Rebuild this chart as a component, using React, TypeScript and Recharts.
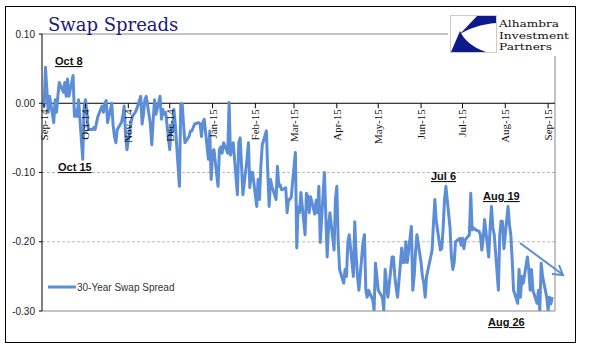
import { LineChart, Line, XAxis, YAxis, ReferenceLine, ReferenceDot } from 'recharts'

// 30-year swap spread, one value per business day
const sep14 = [-0.005, 0.052, 0.02, -0.013, 0.01, -0.028, 0.005, -0.013, 0.01, 0.03, 0.016, 0.03, 0.01, 0.035, 0.01, 0.04, -0.019, -0.01, -0.019, 0.005, -0.081, -0.004]
const oct14 = [0.005, -0.013, -0.038, -0.038, -0.035, -0.038, -0.028, -0.019, -0.004, -0.013, 0.0, 0.004, -0.028, 0.0, -0.032, -0.048, -0.057, -0.038, -0.028, -0.019, -0.004, -0.045, -0.067]
const nov14 = [-0.028, -0.019, -0.016, -0.013, -0.009, 0.01, -0.03, -0.016, 0.005, 0.01, -0.03, -0.06, -0.025, 0.005, -0.016, 0.01, -0.023, -0.009, -0.016, -0.013]
const dec14 = [-0.067, -0.033, -0.04, -0.009, -0.03, -0.12, -0.001, -0.001, -0.03, -0.057, -0.048, -0.04, -0.04, -0.035, -0.03, -0.028, -0.03, -0.048, -0.028, -0.023, -0.081, -0.04, -0.11]
const jan15 = [-0.07, -0.067, -0.12, -0.067, -0.063, -0.072, -0.057, -0.072, 0.001, -0.075, -0.067, -0.057, -0.132, -0.057, -0.05, -0.09, -0.132, -0.08, -0.057, -0.122, -0.1, -0.1]
const feb15 = [-0.149, -0.11, -0.139, -0.091, -0.06, -0.04, -0.1, -0.149, -0.11, -0.12, -0.139, -0.091, -0.12, -0.118, -0.125, -0.122, -0.158, -0.139, -0.139, -0.135]
const mar15 = [-0.071, -0.209, -0.15, -0.158, -0.129, -0.19, -0.13, -0.135, -0.158, -0.135, -0.16, -0.14, -0.158, -0.12, -0.201, -0.1, -0.16, -0.222, -0.18, -0.158, -0.212, -0.139]
const apr15 = [-0.12, -0.2, -0.24, -0.26, -0.24, -0.25, -0.2, -0.19, -0.25, -0.171, -0.22, -0.25, -0.27, -0.2, -0.19, -0.27, -0.28, -0.27, -0.284, -0.299, -0.231, -0.25]
const may15 = [-0.27, -0.28, -0.299, -0.24, -0.26, -0.28, -0.222, -0.222, -0.25, -0.267, -0.28, -0.209, -0.23, -0.23, -0.2, -0.23, -0.178, -0.27, -0.25, -0.215, -0.19]
const jun15 = [-0.23, -0.25, -0.26, -0.28, -0.25, -0.222, -0.212, -0.173, -0.139, -0.17, -0.212, -0.21, -0.18, -0.139, -0.12, -0.18, -0.222, -0.24, -0.23, -0.2, -0.195, -0.205]
const jul15 = [-0.195, -0.21, -0.197, -0.19, -0.13, -0.183, -0.18, -0.182, -0.185, -0.19, -0.212, -0.195, -0.168, -0.222, -0.18, -0.149, -0.18, -0.19, -0.27, -0.19, -0.17, -0.171, -0.21]
const aug15 = [-0.149, -0.175, -0.19, -0.226, -0.27, -0.289, -0.24, -0.28, -0.25, -0.26, -0.222, -0.24, -0.27, -0.24, -0.27, -0.289, -0.27, -0.299, -0.231, -0.25, -0.28]
const sep15 = [-0.299, -0.28, -0.29, -0.28]

const monthSeries: [number, number, number[]][] = [
  [2014, 8, sep14], [2014, 9, oct14], [2014, 10, nov14], [2014, 11, dec14],
  [2015, 0, jan15], [2015, 1, feb15], [2015, 2, mar15], [2015, 3, apr15],
  [2015, 4, may15], [2015, 5, jun15], [2015, 6, jul15], [2015, 7, aug15], [2015, 8, sep15],
]

const tickLabels = ['Sep-14', 'Oct-14', 'Nov-14', 'Dec-14', 'Jan-15', 'Feb-15', 'Mar-15', 'Apr-15', 'May-15', 'Jun-15', 'Jul-15', 'Aug-15', 'Sep-15']
const yTicks = [-0.3, -0.2, -0.1, 0, 0.1]

const BLUE = '#5b8ed6'
const xStart = Date.UTC(2014, 7, 30, 12)
const xEnd = Date.UTC(2015, 8, 6)

const businessDays = (y: number, m: number) => {
  const out: number[] = []
  for (let d = 1; d <= 31; d++) {
    const dt = new Date(Date.UTC(y, m, d))
    if (dt.getUTCMonth() !== m) break
    const wd = dt.getUTCDay()
    if (wd !== 0 && wd !== 6) out.push(dt.getTime())
  }
  return out
}

const data = monthSeries.flatMap(([y, m, vals]) => {
  const days = businessDays(y, m)
  return vals.map((v, i) => ({ t: days[Math.min(i, days.length - 1)], spread: v }))
})

const ticks = tickLabels.map((label, i) => ({ label, t: Date.UTC(2014, 8 + i, 1) }))

const MonthTick = ({ cx, cy, label }: any) => (
  <g>
    <line x1={cx} y1={cy} x2={cx} y2={cy + 5} stroke='#000' />
    <text
      transform={`translate(${cx + 4},${cy + 6}) rotate(-90)`}
      textAnchor='end'
      fontFamily='Liberation Serif'
      fontSize={11}
      fill='#111'
    >
      {label}
    </text>
  </g>
)

const note = {
  fontFamily: 'Liberation Sans',
  fontWeight: 700,
  fontSize: 11,
  fill: '#111',
  textDecoration: 'underline',
} as const

export default function App() {
  return (
    <div style={{ position: 'absolute', left: 0, top: 0, width: 598, height: 361, background: '#fff' }}>
      <div
        style={{
          position: 'absolute',
          left: 5,
          top: 6,
          width: 571,
          height: 337,
          border: '1px solid #000',
          boxSizing: 'border-box',
        }}
      />
      <div style={{ position: 'absolute', left: 0, top: 0 }}>
        <LineChart width={598} height={361} data={data} margin={{ top: 34, right: 43, bottom: 50, left: 5 }}>
          <XAxis dataKey='t' type='number' domain={[xStart, xEnd]} allowDataOverflow hide />
          <YAxis
            width={37}
            domain={[-0.3, 0.1]}
            ticks={yTicks}
            allowDataOverflow
            tickFormatter={(v: number) => v.toFixed(2)}
            axisLine={{ stroke: '#000' }}
            tickLine={{ stroke: '#000' }}
            tickSize={3}
            tickMargin={4}
            tick={{ fontFamily: 'Liberation Sans', fontSize: 10, fill: '#222' }}
          />
          <ReferenceLine y={0.1} stroke='#888' />
          <ReferenceLine y={-0.1} stroke='#bbb' strokeDasharray='3 2' />
          <ReferenceLine y={-0.2} stroke='#bbb' strokeDasharray='3 2' />
          <ReferenceLine y={-0.3} stroke='#888' />
          <ReferenceLine x={xEnd} stroke='#888' />
          <ReferenceLine y={0} stroke='#000' />
          {ticks.map((tk) => (
            <ReferenceDot
              key={tk.label}
              x={tk.t}
              y={0}
              r={0}
              shape={(p: any) => <MonthTick cx={p.cx} cy={p.cy} label={tk.label} />}
            />
          ))}
          <Line
            dataKey='spread'
            stroke={BLUE}
            strokeWidth={3}
            dot={false}
            isAnimationActive={false}
            strokeLinejoin='round'
          />
        </LineChart>
      </div>
      <svg
        width={598}
        height={361}
        style={{ position: 'absolute', left: 0, top: 0, pointerEvents: 'none' }}
      >
        <text x={48} y={31} fontFamily='DejaVu Serif' fontSize={18} fill='#1a1a80'>
          Swap Spreads
        </text>
        <rect x={448} y={8} width={127} height={48} fill='#fff' />
        <g transform='translate(450,15)'>
          <rect x={0.5} y={0.5} width={46} height={37} fill='#fff' stroke='#ccc' />
          <path d='M27,1 L46,1 L46,8 C32,9 18,14 10,19 Z' fill='#0d1a8c' />
          <path d='M10,16 L1,37 L36,37 C22,32 14,25 10,16 Z' fill='#0d1a8c' />
        </g>
        <g fontFamily='DejaVu Serif' fontSize={10} fill='#111' lengthAdjust='spacingAndGlyphs'>
          <text x={499} y={27} textLength={60} lengthAdjust='spacingAndGlyphs'>Alhambra</text>
          <text x={499} y={38.5} textLength={70} lengthAdjust='spacingAndGlyphs'>Investment</text>
          <text x={499} y={50} textLength={53} lengthAdjust='spacingAndGlyphs'>Partners</text>
        </g>
        <line x1={48} y1={287} x2={76} y2={287} stroke={BLUE} strokeWidth={3} />
        <text x={77} y={291} fontFamily='Liberation Sans' fontSize={10} fill='#333'>
          30-Year Swap Spread
        </text>
        <text x={55} y={65} {...note}>Oct 8</text>
        <text x={58} y={171} {...note}>Oct 15</text>
        <text x={431} y={180} {...note}>Jul 6</text>
        <text x={483} y={200} {...note}>Aug 19</text>
        <text x={488} y={326} {...note}>Aug 26</text>
        <line x1={520} y1={243} x2={562} y2={274} stroke={BLUE} strokeWidth={2} />
        <polyline points='552,274 563,275 559,265' fill='none' stroke={BLUE} strokeWidth={2} />
      </svg>
    </div>
  )
}
